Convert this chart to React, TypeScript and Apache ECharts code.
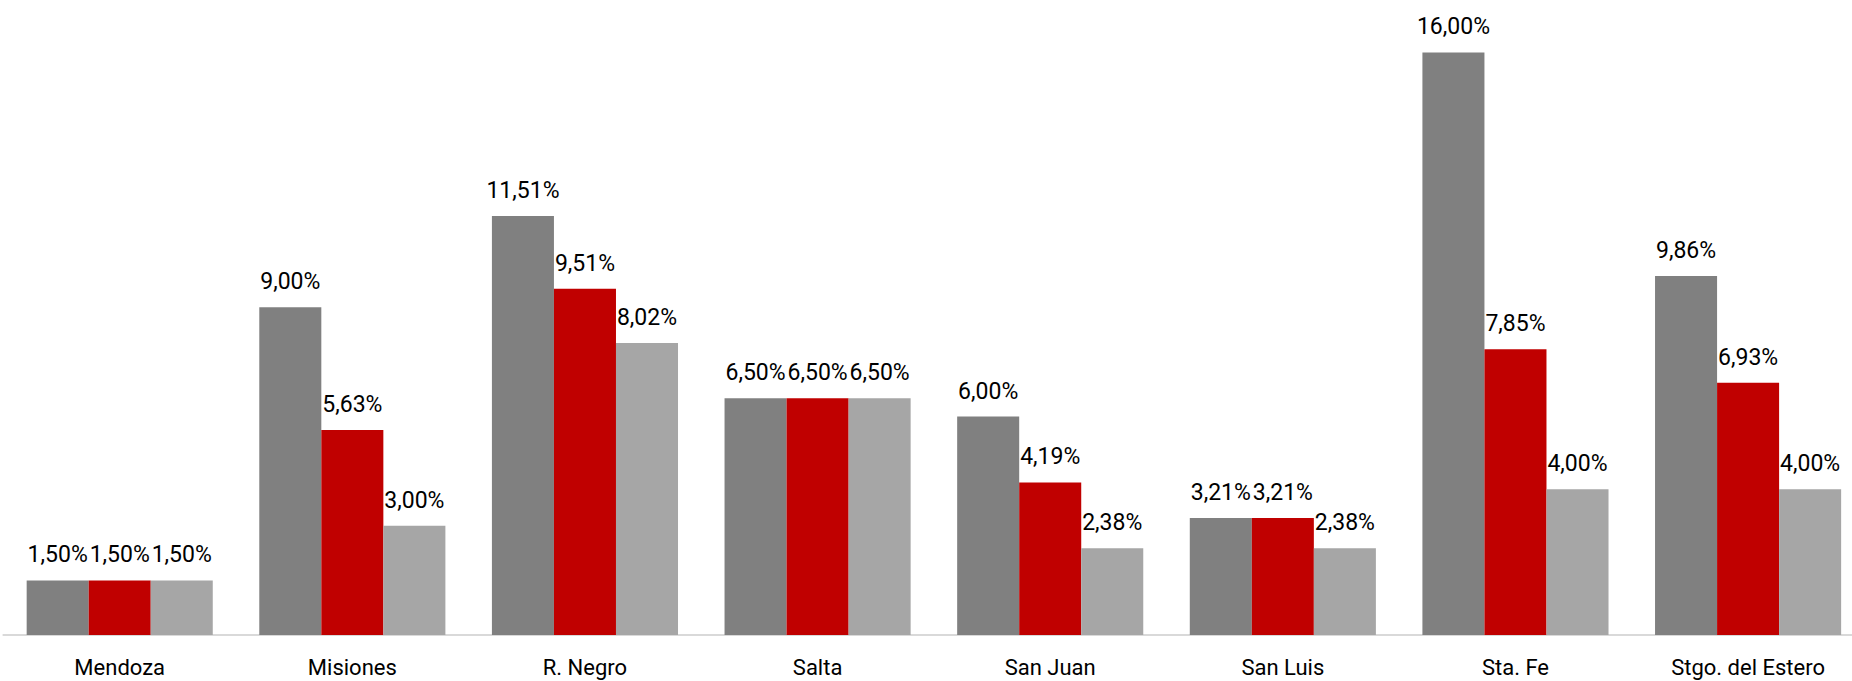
import React, { useEffect, useRef } from "react";
import * as echarts from "echarts";

const categories = ["Mendoza", "Misiones", "R. Negro", "Salta", "San Juan", "San Luis", "Sta. Fe", "Stgo. del Estero"];
const seriesA = [1.5, 9.0, 11.51, 6.5, 6.0, 3.21, 16.0, 9.86];
const seriesB = [1.5, 5.63, 9.51, 6.5, 4.19, 3.21, 7.85, 6.93];
const seriesC = [1.5, 3.0, 8.02, 6.5, 2.38, 2.38, 4.0, 4.0];
const colors = ["#808080", "#C00000", "#A6A6A6"];

const fontFamily = "Roboto, 'Liberation Sans', Arial, sans-serif";

const fmt = (v: number) => v.toFixed(2).replace(".", ",") + "%";

export default function App() {
  const ref = useRef<HTMLDivElement>(null);
  useEffect(() => {
    if (!ref.current) return;
    const chart = echarts.init(ref.current, undefined, { renderer: "svg" });
    const mk = (name: string, data: number[], color: string) => ({
      name,
      type: "bar",
      data,
      barGap: "0%",
      barCategoryGap: "20%",
      itemStyle: { color },
      label: {
        show: true,
        position: "top",
        distance: 14,
        color: "#000",
        fontSize: 23,
        fontFamily,
        formatter: (p: any) => fmt(p.value),
      },
    });
    chart.setOption({
      animation: false,
      grid: {
        left: 3.4,
        width: 1861,
        top: 16,
        bottom: 46,
        containLabel: false,
        outerBoundsMode: "none",
      },
      xAxis: {
        type: "category",
        data: categories,
        axisLine: { show: true, lineStyle: { color: "#D9D9D9", width: 2 } },
        axisTick: { show: false },
        axisLabel: { color: "#000", fontSize: 22, fontFamily, margin: 21, interval: 0 },
      },
      yAxis: {
        type: "value",
        min: 0,
        max: 17,
        show: false,
        splitLine: { show: false },
      },
      series: [mk("A", seriesA, colors[0]), mk("B", seriesB, colors[1]), mk("C", seriesC, colors[2])],
    });
    return () => chart.dispose();
  }, []);
  return (
    <div
      ref={ref}
      style={{ position: "fixed", left: 0, top: 0, width: 1852, height: 681, background: "#fff" }}
    />
  );
}
